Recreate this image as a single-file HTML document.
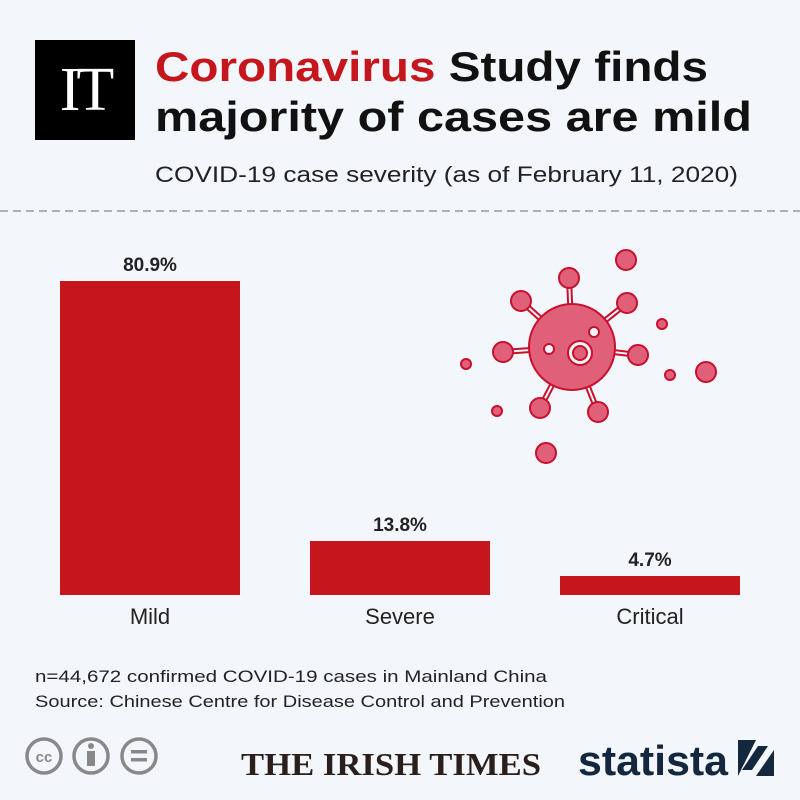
<!DOCTYPE html><html><head><style>
body{margin:0;width:800px;height:800px;background:#f3f6fa;font-family:"Liberation Sans",sans-serif;position:relative;overflow:hidden}
.a{position:absolute}
</style></head><body>
<div class="a" style="left:35px;top:40px;width:100px;height:100px;background:#000;color:#fff;font-family:'Liberation Serif',serif;font-size:62px;line-height:100px;text-align:center;letter-spacing:-4px">IT</div>
<div class="a" style="left:60px;top:281px;width:180px;height:314px;background:#c4161c"></div>
<div class="a" style="left:310px;top:541px;width:180px;height:54px;background:#c4161c"></div>
<div class="a" style="left:560px;top:576px;width:180px;height:19px;background:#c4161c"></div>
<svg class="a" style="left:0;top:0" width="800" height="800" font-family="Liberation Sans">
<text x="155" y="81" font-size="42" font-weight="bold" fill="#111" textLength="553" lengthAdjust="spacingAndGlyphs"><tspan fill="#c4161c">Coronavirus</tspan> Study finds</text>
<text x="155" y="131" font-size="42" font-weight="bold" fill="#111" textLength="597" lengthAdjust="spacingAndGlyphs">majority of cases are mild</text>
<text x="155" y="182" font-size="22" fill="#222" textLength="583" lengthAdjust="spacingAndGlyphs">COVID-19 case severity (as of February 11, 2020)</text>
<line x1="0" y1="211" x2="800" y2="211" stroke="#999" stroke-width="1.5" stroke-dasharray="8,5"/>
<g font-size="19" font-weight="bold" fill="#222" text-anchor="middle">
<text x="150" y="271">80.9%</text><text x="400" y="531">13.8%</text><text x="650" y="566">4.7%</text></g>
<g font-size="22" fill="#222" text-anchor="middle">
<text x="150" y="624">Mild</text><text x="400" y="624">Severe</text><text x="650" y="624">Critical</text></g>
<text x="35" y="682" font-size="17" fill="#222" textLength="512" lengthAdjust="spacingAndGlyphs">n=44,672 confirmed COVID-19 cases in Mainland China</text>
<text x="35" y="707" font-size="17" fill="#222" textLength="530" lengthAdjust="spacingAndGlyphs">Source: Chinese Centre for Disease Control and Prevention</text>
<g stroke="#c8102e" stroke-width="2" fill="#e0607a">
<g stroke-width="6">
<line x1="572" y1="347" x2="569" y2="278"/><line x1="572" y1="347" x2="521" y2="301"/><line x1="572" y1="347" x2="627" y2="303"/><line x1="572" y1="347" x2="503" y2="352"/><line x1="572" y1="347" x2="638" y2="355"/><line x1="572" y1="347" x2="540" y2="408"/><line x1="572" y1="347" x2="598" y2="412"/></g>
<g stroke="#f3f6fa" stroke-width="2">
<line x1="572" y1="347" x2="569" y2="278"/><line x1="572" y1="347" x2="521" y2="301"/><line x1="572" y1="347" x2="627" y2="303"/><line x1="572" y1="347" x2="503" y2="352"/><line x1="572" y1="347" x2="638" y2="355"/><line x1="572" y1="347" x2="540" y2="408"/><line x1="572" y1="347" x2="598" y2="412"/></g>
<circle cx="572" cy="347" r="43"/>
<circle cx="569" cy="278" r="10"/><circle cx="521" cy="301" r="10"/><circle cx="627" cy="303" r="10"/><circle cx="503" cy="352" r="10"/><circle cx="638" cy="355" r="10"/><circle cx="540" cy="408" r="10"/><circle cx="598" cy="412" r="10"/>
<circle cx="626" cy="260" r="10"/><circle cx="706" cy="372" r="10"/><circle cx="546" cy="453" r="10"/>
<circle cx="662" cy="324" r="5"/><circle cx="466" cy="364" r="5"/><circle cx="670" cy="375" r="5"/><circle cx="497" cy="411" r="5"/>
<circle cx="549" cy="349" r="5" fill="#f3f6fa"/><circle cx="594" cy="332" r="5" fill="#f3f6fa"/><circle cx="580" cy="353" r="12" fill="#f3f6fa"/><circle cx="580" cy="353" r="7"/>
</g>
<g stroke="#888" stroke-width="3.5" fill="none"><circle cx="44" cy="756" r="17"/><circle cx="91" cy="756" r="17"/><circle cx="139" cy="756" r="17"/></g>
<text x="44" y="762" font-size="15" font-weight="bold" fill="#888" text-anchor="middle">cc</text>
<circle cx="91" cy="746" r="3" fill="#888"/><rect x="87" y="751" width="8" height="15" fill="#888"/>
<rect x="131" y="750" width="16" height="3.5" fill="#888"/><rect x="131" y="758" width="16" height="3.5" fill="#888"/>
<text x="241" y="775" font-family="Liberation Serif" font-weight="bold" font-size="32" fill="#2a1f1a" textLength="300" lengthAdjust="spacingAndGlyphs">THE IRISH TIMES</text>
<text x="578" y="775" font-weight="bold" font-size="42" fill="#13273f" textLength="150" lengthAdjust="spacingAndGlyphs">statista</text>
<rect x="738" y="740" width="36" height="36" fill="#13273f"/>
<path d="M738 776 L756 776 L774 750 L774 740 L756 740 Z" fill="#f3f6fa"/>
<path d="M742 770 L752 770 L768 746 L758 746 Z" fill="#13273f"/>
</svg>
</body></html>
